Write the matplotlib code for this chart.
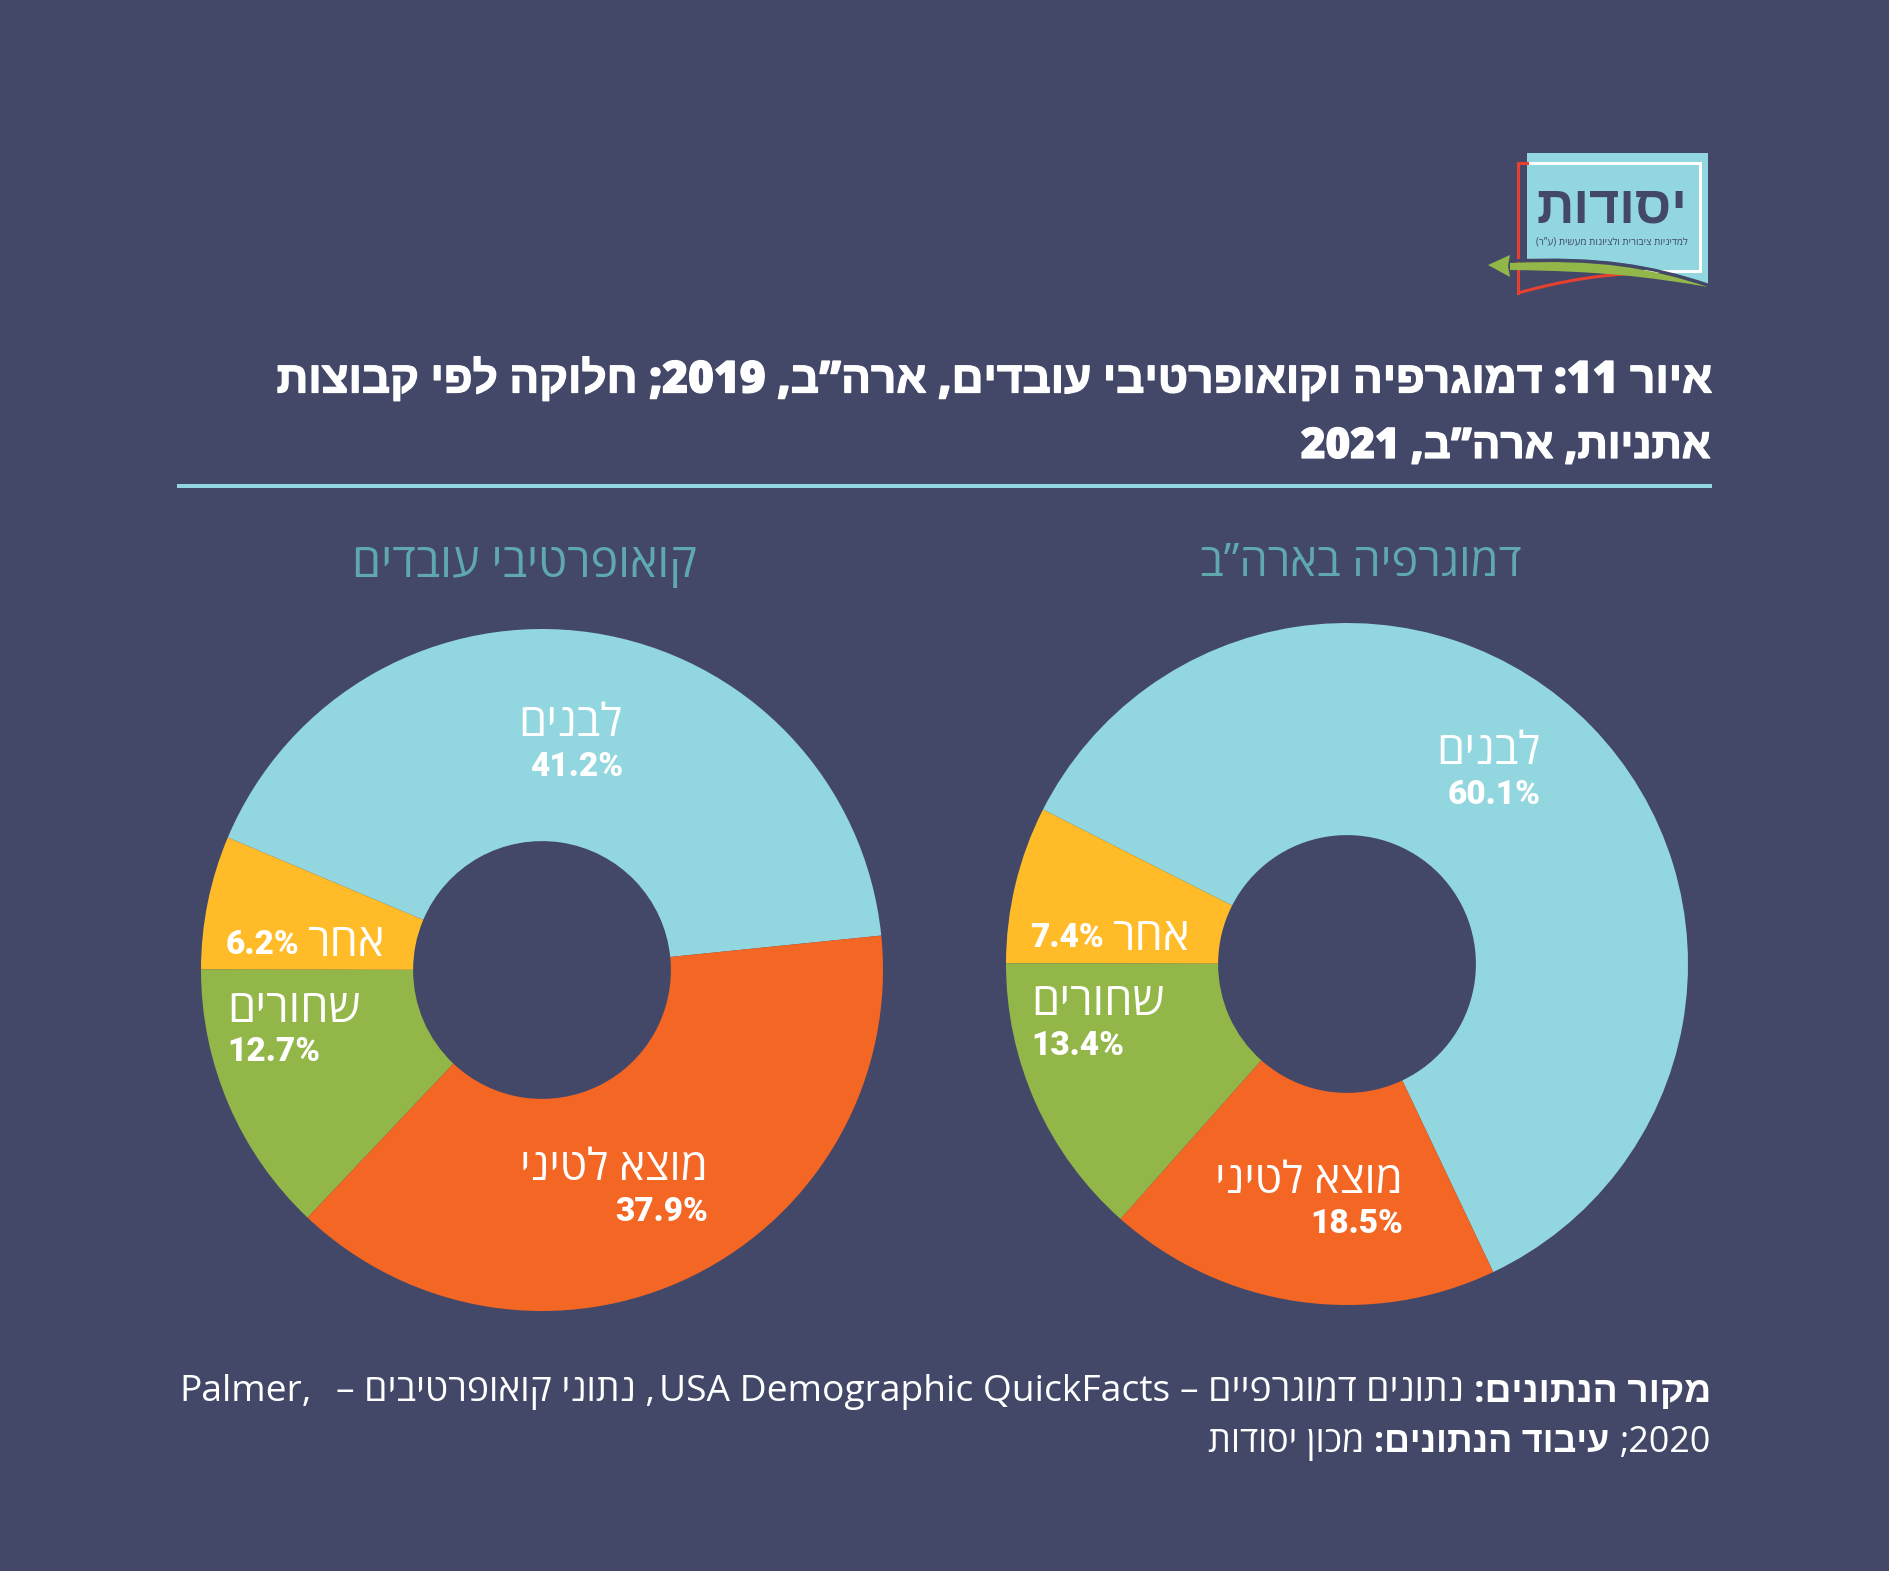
import re
import matplotlib
matplotlib.use("Agg")
import matplotlib.pyplot as plt
import matplotlib.patheffects as pe
from matplotlib.patches import PathPatch, Polygon
from matplotlib.path import Path

# data
groups = ["לבנים", "אחר", "שחורים", "מוצא לטיני"]
usa_values = [60.1, 7.4, 13.4, 18.5]
coop_values = [41.2, 6.2, 12.7, 37.9]
colors = ["#92D6DF", "#FFBC28", "#92B647", "#F46623"]

BG = "#434868"
LIGHT = "#92D6DF"
TEAL = "#5FA9AE"
HEB = ["Open Sans", "Liberation Sans", "DejaVu Sans"]
NUM = ["Roboto", "Liberation Sans", "DejaVu Sans"]
W, H = 1890, 1571


# matplotlib has no bidi, so hebrew goes in reversed and number runs are turned back
def rtl(s):
    r = s[::-1].replace("(", "\0").replace(")", "(").replace("\0", ")")
    return re.sub(r"[A-Za-z0-9%](?:[A-Za-z0-9 .%]*[A-Za-z0-9%])?", lambda m: m.group()[::-1], r)


fig = plt.figure(figsize=(W / 100, H / 100), dpi=100, facecolor=BG)
ax = fig.add_axes([0, 0, 1, 1], zorder=10)
ax.set_xlim(0, W)
ax.set_ylim(H, 0)
ax.axis("off")


def donut(values, cx, cy, start):
    r = 341
    a = fig.add_axes([(cx - r) / W, 1 - (cy + r) / H, 2 * r / W, 2 * r / H], zorder=1)
    a.pie(values, colors=colors, startangle=start, counterclock=True, radius=1,
          wedgeprops=dict(width=0.622, linewidth=0))
    a.set_xlim(-1, 1)
    a.set_ylim(-1, 1)
    a.patch.set_alpha(0)


donut(usa_values, 1347, 964, -64.6)
donut(coop_values, 542, 970, 5.8)


def put(x, y, s, size, ha="right", family=HEB, weight="normal", color="white"):
    return ax.text(x, y, s, fontsize=size, ha=ha, va="center", family=family,
                   weight=weight, color=color)


# title, a thin stroke to get closer to the heavy face
heavy = [pe.withStroke(linewidth=0.9, foreground="white")]
put(1711, 381, rtl("איור 11: דמוגרפיה וקואופרטיבי עובדים, ארה”ב, 2019; חלוקה לפי קבוצות"), 31.8,
    weight=800).set_path_effects(heavy)
put(1711, 447, rtl("אתניות, ארה”ב, 2021"), 30.4, weight=800).set_path_effects(heavy)
ax.plot([177, 1712], [486, 486], color=LIGHT, lw=2.9, solid_capstyle="butt")

# donut headings
put(1361, 564, rtl("דמוגרפיה בארה”ב"), 32.5, ha="center", color=TEAL)
put(525, 564, rtl("קואופרטיבי עובדים"), 33.5, ha="center", color=TEAL)

# slice labels, name then value
NAME = 32.5
PCT = 24
BOLD = 900
pct = "{}%"
put(1540, 752, rtl(groups[0]), NAME)
put(1541, 795, pct.format(usa_values[0]), PCT, family=NUM, weight=BOLD)
put(1403, 1182, rtl(groups[3]), 31.5)
put(1403, 1224, pct.format(usa_values[3]), PCT, family=NUM, weight=BOLD)
put(1165, 1003, rtl(groups[2]), NAME)
put(1031, 1046, pct.format(usa_values[2]), PCT, ha="left", family=NUM, weight=BOLD)
put(1190, 938, rtl(groups[1]), NAME)
put(1030, 938, pct.format(usa_values[1]), PCT, ha="left", family=NUM, weight=BOLD)

put(622, 724, rtl(groups[0]), NAME)
put(623, 767, pct.format(coop_values[0]), PCT, family=NUM, weight=BOLD)
put(708, 1169, rtl(groups[3]), 31.5)
put(708, 1212, pct.format(coop_values[3]), PCT, family=NUM, weight=BOLD)
put(361, 1010, rtl(groups[2]), NAME)
put(227, 1052, pct.format(coop_values[2]), PCT, ha="left", family=NUM, weight=BOLD)
put(385, 944, rtl(groups[1]), NAME)
put(226, 945, pct.format(coop_values[1]), PCT, ha="left", family=NUM, weight=BOLD)


# footer, pieces set from the right edge
def line(y, pieces, size):
    x = 1711
    rend = fig.canvas.get_renderer()
    for s, bold, gap in pieces:
        t = put(x, y, s, size, weight="bold" if bold else "normal")
        x -= t.get_window_extent(rend).width + gap


line(1392, [(rtl("מקור הנתונים:"), True, 10),
            (rtl("נתונים דמוגרפיים –"), False, 10),
            ("USA Demographic QuickFacts", False, 4),
            (rtl(", נתוני קואופרטיבים –"), False, 24),
            ("Palmer,", False, 0)], 26.85)
line(1443, [(rtl("2020;"), False, 10), (rtl("עיבוד הנתונים:"), True, 10),
            (rtl("מכון יסודות"), False, 0)], 25.8)

# logo
logo_shape = Path([(1527, 153), (1708, 153), (1708, 284), (1640, 260), (1580, 258), (1527, 260), (1527, 153)],
                  [Path.MOVETO, Path.LINETO, Path.LINETO, Path.CURVE4, Path.CURVE4, Path.CURVE4, Path.CLOSEPOLY])
ax.add_patch(PathPatch(logo_shape, fc=LIGHT, ec="none", zorder=3))
ax.plot([1525, 1700, 1700, 1645], [163, 163, 271, 271], color="white", lw=2.2, zorder=4, solid_joinstyle="miter")
ax.plot([1527, 1518, 1518], [163, 163, 293], color="#E8402F", lw=2.2, zorder=4, solid_joinstyle="miter")
red = Path([(1518, 293), (1565, 280), (1600, 275), (1640, 273)], [Path.MOVETO, Path.CURVE4, Path.CURVE4, Path.CURVE4])
ax.add_patch(PathPatch(red, fc="none", ec="#E8402F", lw=2.2, zorder=4))
swoosh = Path([(1510, 261), (1600, 257), (1650, 266), (1708, 285)], [Path.MOVETO, Path.CURVE4, Path.CURVE4, Path.CURVE4])
ax.add_patch(PathPatch(swoosh, fc="none", ec=BG, lw=2.2, zorder=4.5))
green = Path([(1510, 263), (1600, 259), (1650, 268), (1708, 287), (1650, 277), (1600, 271), (1510, 270), (1510, 263)],
             [Path.MOVETO, Path.CURVE4, Path.CURVE4, Path.CURVE4, Path.CURVE4, Path.CURVE4, Path.CURVE4, Path.CLOSEPOLY])
ax.add_patch(PathPatch(green, fc="#92B647", ec="none", zorder=5))
ax.add_patch(Polygon([(1488, 265), (1510, 255), (1508, 266), (1510, 277)], fc="#92B647", ec="none", zorder=5))
put(1612, 209, rtl("יסודות"), 37.5, ha="center", weight=800, color=BG).set_zorder(6)
put(1612, 242, rtl("למדיניות ציבורית ולציונות מעשית (ע”ר)"), 7.1, ha="center", color=BG).set_zorder(6)

fig.savefig("out.png", dpi=100, facecolor=BG)
